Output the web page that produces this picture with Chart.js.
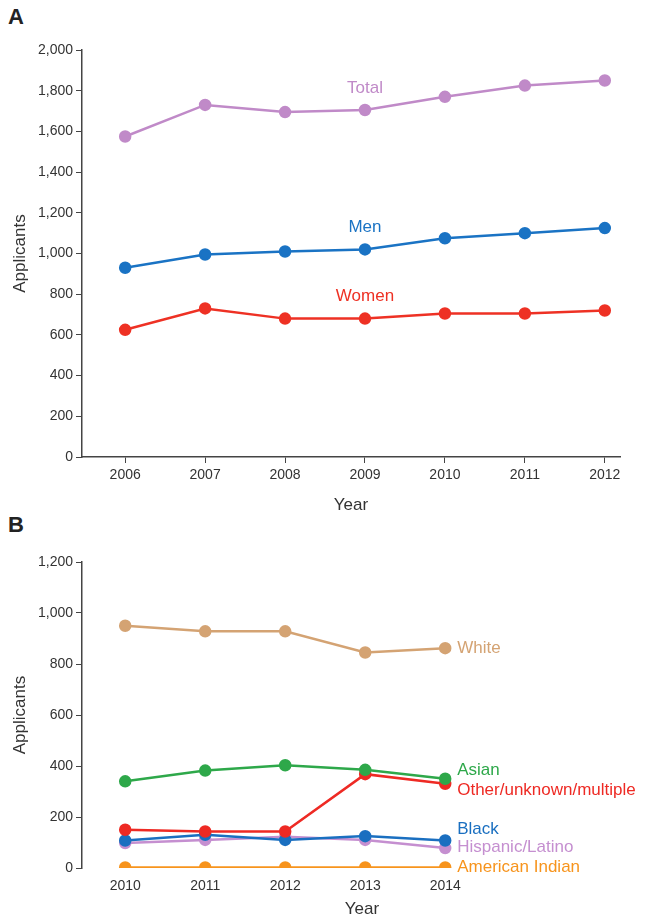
<!DOCTYPE html>
<html>
<head>
<meta charset="utf-8">
<script src="https://cdn.jsdelivr.net/npm/chart.js@4/dist/chart.umd.min.js"></script>
<style>
body { margin: 0; background: #fff; width: 652px; height: 924px; position: relative; overflow: hidden; }
.wrap { position: absolute; left: 0; width: 652px; }
.tag { position: absolute; left: 8px; font: bold 22px "Liberation Sans", Arial, sans-serif; color: #222; }
</style>
</head>
<body>
<div class="tag" style="top:4px">A</div>
<div class="tag" style="top:512px">B</div>
<div class="wrap" style="top:0;height:520px"><canvas id="chartA"></canvas></div>
<div class="wrap" style="top:500px;height:424px"><canvas id="chartB"></canvas></div>
<script>
const yearsA = [2006, 2007, 2008, 2009, 2010, 2011, 2012];
const totalA = [1575, 1730, 1695, 1705, 1770, 1825, 1850];
const menA = [930, 995, 1010, 1020, 1075, 1100, 1125];
const womenA = [625, 730, 680, 680, 705, 705, 720];

const yearsB = [2010, 2011, 2012, 2013, 2014];
const whiteB = [950, 928, 928, 845, 862];
const asianB = [340, 382, 403, 385, 350];
const otherB = [150, 143, 143, 368, 330];
const blackB = [108, 130, 110, 125, 108];
const hispanicB = [98, 110, 123, 110, 78];
const amIndianB = [2, 2, 2, 2, 2];

const FONT = '"Liberation Sans", Arial, sans-serif';
Chart.defaults.font.family = FONT;
Chart.defaults.color = '#333';

function series(label, years, vals, color, labelAt) {
    return {
        label: label,
        data: years.map((y, i) => ({ x: y, y: vals[i] })),
        borderColor: color,
        backgroundColor: color,
        borderWidth: 2.5,
        pointRadius: 5,
        pointHoverRadius: 5,
        labelAt: labelAt,
    };
}

const lineLabels = {
    id: 'lineLabels',
    afterDatasetsDraw(chart) {
        const ctx = chart.ctx;
        ctx.save();
        ctx.font = '17px ' + FONT;
        ctx.textBaseline = 'middle';
        chart.data.datasets.forEach(ds => {
            const a = ds.labelAt;
            const px = chart.scales.x.getPixelForValue(a.x) + (a.dx || 0);
            const py = chart.scales.y.getPixelForValue(a.y);
            ctx.fillStyle = ds.borderColor;
            ctx.textAlign = a.align;
            ctx.fillText(ds.label, px, py);
        });
        ctx.restore();
    }
};

function makeChart(id, datasets, xmin, xmax, xfirst, xlast, ymax, xh, padTop, padRight, xBorder) {
    return new Chart(document.getElementById(id), {
        type: 'line',
        data: { datasets: datasets },
        options: {
            responsive: true,
            maintainAspectRatio: false,
            animation: false,
            layout: { padding: { top: padTop, right: padRight, left: 10, bottom: 0 } },
            plugins: { legend: { display: false }, tooltip: { enabled: false } },
            scales: {
                x: {
                    type: 'linear', min: xmin, max: xmax,
                    afterBuildTicks: s => { s.ticks = []; for (let v = xfirst; v <= xlast; v++) s.ticks.push({ value: v }); },
                    ticks: { callback: v => String(v), font: { size: 14 }, color: '#333', padding: 4 },
                    grid: { display: xBorder, drawOnChartArea: false, tickLength: 6, color: '#444' },
                    border: { display: xBorder, color: '#444', width: 1.5 },
                    title: { display: true, text: 'Year', font: { size: 17 }, color: '#333', padding: { top: 6 } },
                    afterFit: s => { s.height = xh; },
                },
                y: {
                    min: 0, max: ymax,
                    ticks: { stepSize: 200, font: { size: 14 }, color: '#333', padding: 3,
                        callback: v => v.toLocaleString('en-US') },
                    grid: { drawOnChartArea: false, tickLength: 6, color: '#444' },
                    border: { color: '#444', width: 1.5 },
                    title: { display: true, text: 'Applicants', font: { size: 17 }, color: '#333', padding: 0 },
                    afterFit: s => { s.width = 72; },
                },
            },
        },
        plugins: [lineLabels],
    });
}

makeChart('chartA', [
    series('Total', yearsA, totalA, '#c08ac8', { x: 2009, y: 1813, align: 'center' }),
    series('Men', yearsA, menA, '#1a73c4', { x: 2009, y: 1130, align: 'center' }),
    series('Women', yearsA, womenA, '#ee3124', { x: 2009, y: 791, align: 'center' }),
], 2005.46, 2012.19, 2006, 2012, 2000, 63, 50, 32, true);

makeChart('chartB', [
    series('White', yearsB, whiteB, '#d4a373', { x: 2014, dx: 12, y: 862, align: 'left' }),
    series('Asian', yearsB, asianB, '#2ea84a', { x: 2014, dx: 12, y: 384, align: 'left' }),
    series('Other/unknown/multiple', yearsB, otherB, '#ee2a24', { x: 2014, dx: 12, y: 306, align: 'left' }),
    series('Black', yearsB, blackB, '#1a6fc0', { x: 2014, dx: 12, y: 153, align: 'left' }),
    series('Hispanic/Latino', yearsB, hispanicB, '#c58fd0', { x: 2014, dx: 12, y: 80, align: 'left' }),
    series('American Indian', yearsB, amIndianB, '#f7941d', { x: 2014, dx: 12, y: 4, align: 'left' }),
], 2009.46, 2016.46, 2010, 2014, 1200, 56, 62, 10, false);
</script>
</body>
</html>
